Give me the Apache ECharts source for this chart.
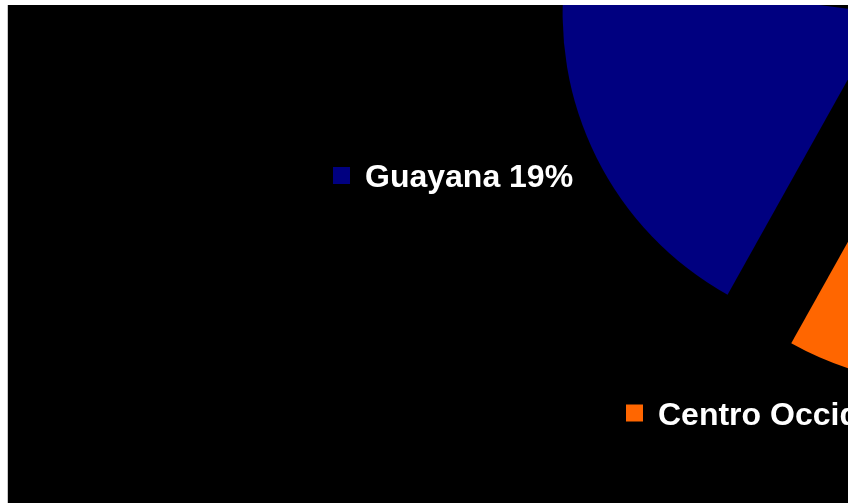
<!DOCTYPE html>
<html>
<head>
<meta charset="utf-8">
<script src="https://cdn.jsdelivr.net/npm/echarts@6/dist/echarts.min.js"></script>
<style>
  html, body { margin: 0; padding: 0; background: #ffffff; width: 853px; height: 503px; overflow: hidden; }
  #frame { position: absolute; left: 7px; top: 5px; width: 1px; height: 498px; background: #c8c8c8; }
  #chart { position: absolute; left: 8px; top: 5px; width: 840px; height: 498px; background: #000000; }
</style>
</head>
<body>
<div id="frame"></div>
<div id="chart"></div>
<script>
// Regions and their share (%) of the pie
const categories = ['Centro Occidental', 'Guayana', 'Otras regiones'];
const values = [10, 19, 71];
const colors = ['#FF6600', '#000080', '#808080'];
const showLabel = [true, true, false];

// legend-key labels: left edge of key square and vertical middle, in chart pixels
const labelPos = [[618, 408], [325, 170.5], [0, 0]];

const chart = echarts.init(document.getElementById('chart'), null, { renderer: 'canvas' });

const data = categories.map((name, i) => ({
  name: name,
  value: values[i],
  selected: true,
  itemStyle: { color: colors[i] }
}));

const graphics = [];
categories.forEach((name, i) => {
  if (!showLabel[i]) return;
  const p = labelPos[i];
  graphics.push({
    type: 'rect',
    silent: true,
    shape: { x: p[0], y: p[1] - 8.5, width: 17, height: 17 },
    style: { fill: colors[i] }
  });
  graphics.push({
    type: 'text',
    silent: true,
    x: p[0] + 32,
    y: p[1] + 3,
    style: {
      text: name + ' ' + values[i] + '%',
      fill: '#ffffff',
      font: 'bold 32px "Liberation Sans", Arial, sans-serif',
      textAlign: 'left',
      textVerticalAlign: 'middle'
    }
  });
});

chart.setOption({
  backgroundColor: '#000000',
  animation: false,
  graphic: graphics,
  series: [{
    type: 'pie',
    center: [958, -32],
    radius: 322,
    startAngle: -83.2,
    clockwise: true,
    selectedMode: 'multiple',
    selectedOffset: 91,
    silent: true,
    emphasis: { scale: false },
    label: { show: false },
    labelLine: { show: false },
    data: data
  }]
});
</script>
</body>
</html>
